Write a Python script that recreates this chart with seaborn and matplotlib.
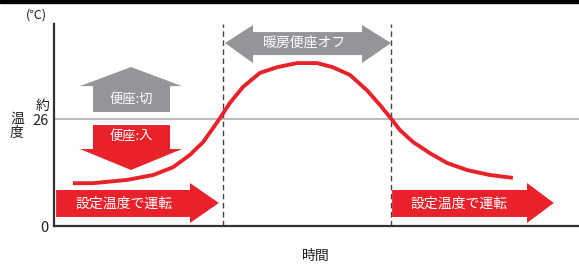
import matplotlib
matplotlib.use("Agg")
import matplotlib.pyplot as plt
from matplotlib.patches import Polygon, Rectangle
import seaborn as sns
import pandas as pd

# temperature curve (time in arbitrary units, temperature in degC)
time = [3.6, 7.4, 13.9, 18.9, 22.7, 25.9, 28.4, 30.3, 31.6, 33.5, 36.0, 39.2, 42.5,
        46.3, 50.1, 53.1, 56.4, 59.6, 62.1, 64.4, 65.9, 68.4, 71.6, 74.9, 78.7, 83.0, 87.4]
temp = [10.4, 10.4, 11.2, 12.4, 14.3, 17.3, 20.4, 23.8, 26.2, 29.9, 33.8, 37.2, 38.6,
        39.6, 39.6, 38.6, 36.7, 33.0, 29.4, 25.8, 23.3, 20.4, 17.7, 15.3, 13.6, 12.4, 11.7]

set_temp = 26
heater_off = [32.2, 64.2]          # start / end of the "heater off" period
ytick_vals = [0, 26]
ytick_labels = ["0", "26"]

RED = "#e8212a"
GRAY = "#939598"

sns.set_theme(style="white")
plt.rcParams["font.family"] = ["Noto Sans CJK JP", "DejaVu Sans"]

fig = plt.figure(figsize=(5.79, 2.66), dpi=100)
ax = fig.add_axes([54 / 579, 40 / 266, 525 / 579, 202 / 266])
ax.set_xlim(0, 100)
ax.set_ylim(0, 49.1)

# top border bar
fig.patches.append(Rectangle((0, 1 - 3 / 266), 1, 3 / 266, transform=fig.transFigure,
                             color="black", zorder=10))

ax.axhline(set_temp, color="#a7a9ac", lw=1.1, zorder=1)
for xv in heater_off:
    ax.axvline(xv, color="#444444", lw=1, ls=(0, (4, 2.5)), zorder=1)

df = pd.DataFrame({"time": time, "temp": temp})
sns.lineplot(data=df, x="time", y="temp", ax=ax, color=RED, lw=2.8, zorder=3,
             solid_joinstyle="round", solid_capstyle="butt")


def poly(pts, color):
    ax.add_patch(Polygon(pts, closed=True, facecolor=color, edgecolor="none",
                         zorder=4, clip_on=False))


# red "run at set temperature" arrows
for x0, x1, x2 in [(0.4, 25.9, 31.4), (64.4, 90.1, 95.2)]:
    poly([(x0, 2.2), (x1, 2.2), (x1, 0.73), (x2, 5.6), (x1, 10.45), (x1, 8.75), (x0, 8.75)], RED)

# gray up arrow
poly([(7.43, 27.7), (22.1, 27.7), (22.1, 34.0), (24.38, 34.0), (14.67, 38.64),
      (4.95, 34.0), (7.43, 34.0)], GRAY)
# red down arrow
poly([(7.43, 24.54), (22.1, 24.54), (22.1, 18.71), (24.38, 18.71), (14.67, 13.61),
      (4.95, 18.71), (7.43, 18.71)], RED)
# gray double arrow
poly([(32.57, 44.47), (37.9, 48.85), (37.9, 47.14), (58.67, 47.14), (58.67, 48.85),
      (64.19, 44.47), (58.67, 39.61), (58.67, 41.55), (37.9, 41.55), (37.9, 39.61)], GRAY)

tkw = dict(color="white", ha="center", va="center", zorder=5)
ax.text(14.67, 30.6, "便座:切", fontsize=9.5, **tkw)
ax.text(14.67, 21.7, "便座:入", fontsize=9.5, **tkw)
ax.text(13.3, 5.5, "設定温度で運転", fontsize=10, **tkw)
ax.text(77.1, 5.5, "設定温度で運転", fontsize=10, **tkw)
ax.text(47.8, 44.5, "暖房便座オフ", fontsize=10, **tkw)

ax.set_xticks([])
ax.set_yticks(ytick_vals)
ax.set_yticklabels(ytick_labels, fontsize=10.5, color="#222222")
ax.tick_params(axis="y", length=0, pad=4)
ax.set_xlabel("")
ax.set_ylabel("")

for s in ["top", "right"]:
    ax.spines[s].set_visible(False)
for s in ["left", "bottom"]:
    ax.spines[s].set_color("#333333")
    ax.spines[s].set_linewidth(1.6)

fig.text(36 / 579, 1 - 15 / 266, "(℃)", fontsize=9, ha="center", va="center", color="#222222")
fig.text(43 / 579, 1 - 106 / 266, "約", fontsize=10, ha="center", va="center", color="#222222")
fig.text(17 / 579, 1 - 126 / 266, "温\n度", fontsize=10, ha="center", va="center",
         linespacing=1.0, color="#222222")
fig.text(316 / 579, 1 - 256 / 266, "時間", fontsize=10, ha="center", va="center", color="#222222")

fig.savefig("out.png", dpi=100)
